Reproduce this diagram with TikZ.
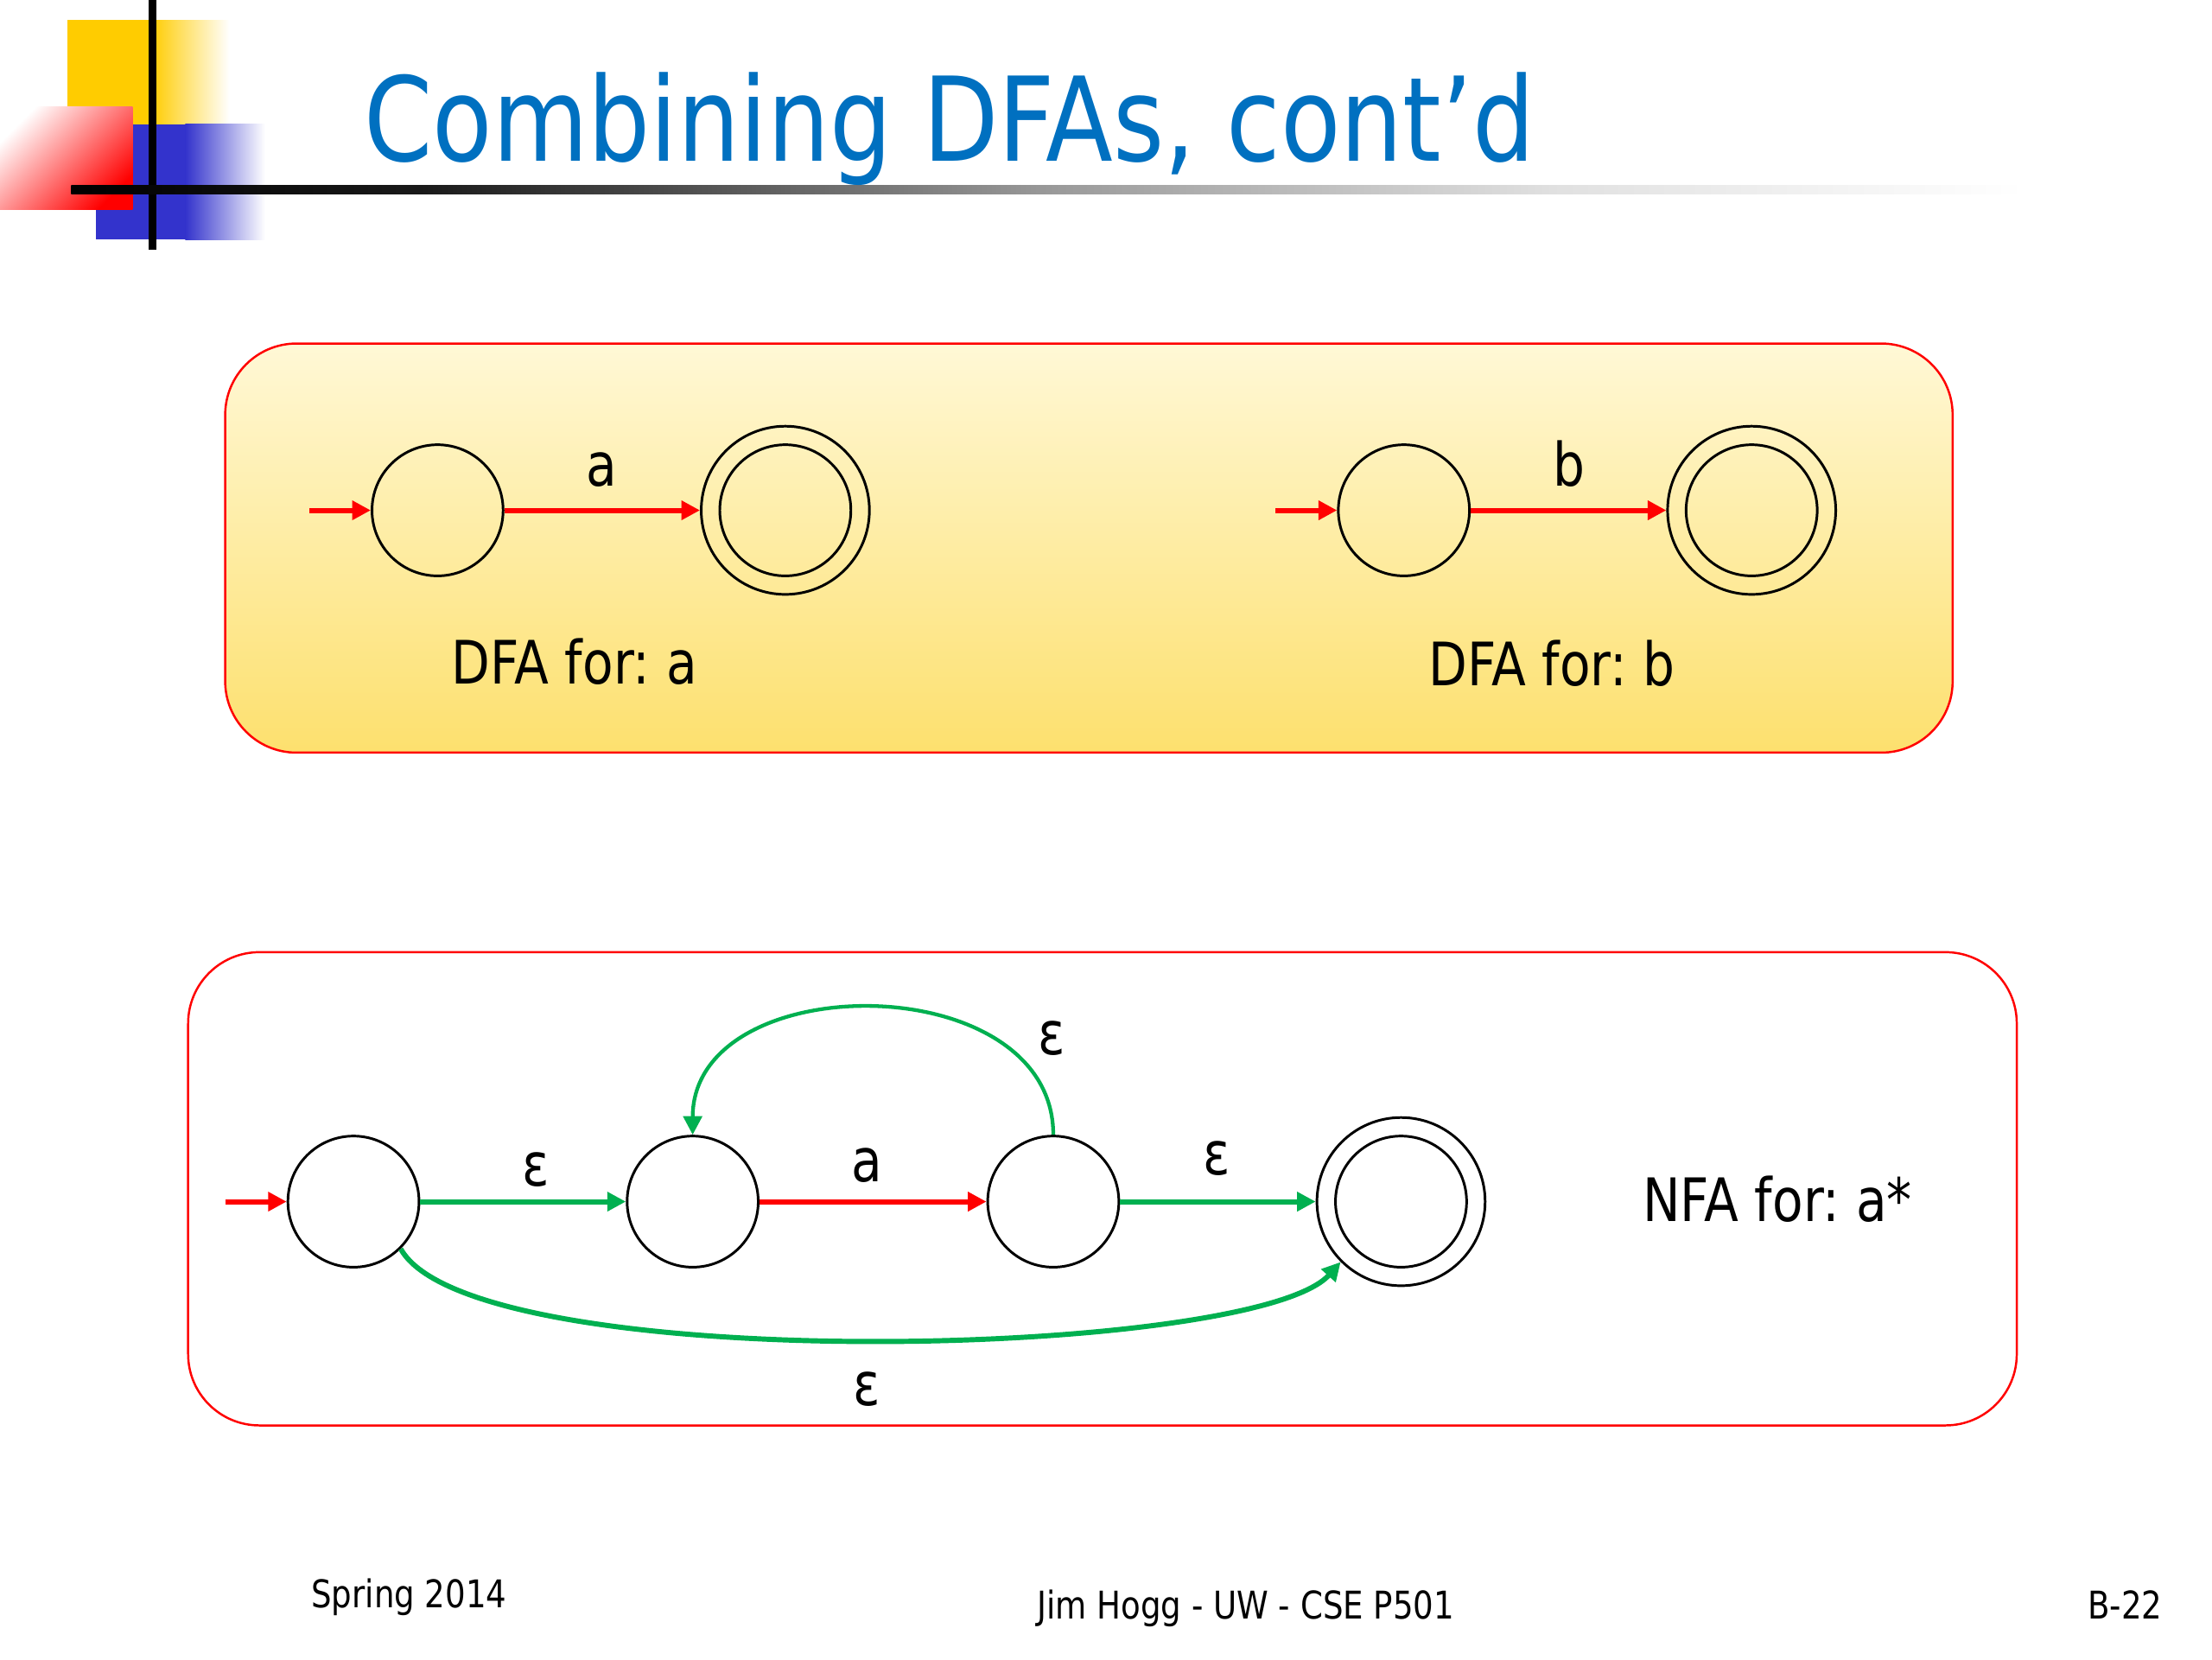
\documentclass[tikz,border=0pt]{standalone}
\usepackage{fontspec}
\setmainfont{DejaVu Sans}[FakeStretch=0.84]
\usetikzlibrary{arrows.meta}
\definecolor{titleblue}{RGB}{0,112,192}
\definecolor{epsgreen}{RGB}{0,176,80}
\definecolor{boxtop}{RGB}{255,248,214}
\definecolor{boxbot}{RGB}{253,224,110}
\definecolor{tileyellow}{RGB}{255,204,0}
\definecolor{tileblue}{RGB}{51,51,204}
\pgfdeclarehorizontalshading{rulefade}{100bp}{color(0bp)=(black); color(25bp)=(black); color(34bp)=(black!90); color(50bp)=(black!40); color(63bp)=(black!12); color(75bp)=(white); color(100bp)=(white)}
\tikzstyle{state}=[circle,draw,line width=0.9pt,minimum size=46pt,inner sep=0pt]
\tikzstyle{accept}=[circle,draw,line width=0.9pt,minimum size=59pt,inner sep=0pt,
  path picture={\draw[line width=0.9pt] (path picture bounding box.center) circle (23pt);}]
\tikzstyle{redarr}=[red,line width=1.8pt,-{Triangle[length=6.5pt,width=6.5pt]}]
\tikzstyle{grnarr}=[epsgreen,line width=1.8pt,-{Triangle[length=6.5pt,width=6.5pt]}]
\tikzstyle{lbl}=[font=\fontsize{21}{24}\selectfont,inner sep=0pt,anchor=base]
\tikzstyle{foot}=[font=\fontsize{13.4}{15}\selectfont,inner sep=0pt,anchor=base]
\frenchspacing

\begin{document}
\begin{tikzpicture}[x=0.5pt,y=-0.5pt]
    \useasboundingbox (0,0) rectangle (1552,1164);
    % logo tiles
    \fill[tileyellow] (47,14) rectangle (106,87);
    \shade[left color=tileyellow,right color=white] (106,14) rectangle (161,87);
    \fill[tileblue] (67,87) rectangle (130,168);
    \shade[left color=tileblue,right color=white] (130,87) rectangle (186,168);
    \shade[left color=white,right color=red,shading angle=45] (0,75) rectangle (93,147);
    \draw[line width=2.7pt] (107,0) -- (107,175);
    \shade[shading=rulefade] (50,130) rectangle (1420,136);
    \node[anchor=base west,text=titleblue,font=\fontsize{41}{45}\selectfont,inner sep=0pt] (title) at (255,113) {Combining DFAs, cont’d};

    % panels
    \shade[draw=red,line width=0.75pt,rounded corners=25pt,top color=boxtop,bottom color=boxbot] (158,241) rectangle (1370,528);
    \draw[red,line width=0.75pt,rounded corners=25pt] (132,668) rectangle (1415,1000);

    \coordinate (sa) at (217,358);
    \node[state] (qa0) at (307,358) {};
    \node[accept] (qa1) at (551,358) {};
    \coordinate (sb) at (895,358);
    \node[state] (qb0) at (985,358) {};
    \node[accept] (qb1) at (1229,358) {};
    \coordinate (sn) at (158,843);
    \node[state] (n0) at (248,843) {};
    \node[state] (n1) at (486,843) {};
    \node[state] (n2) at (739,843) {};
    \node[accept] (n3) at (983,843) {};

    \foreach \from/\to in {sa/qa0,qa0/qa1,sb/qb0,qb0/qb1,sn/n0,n1/n2}
    \draw[redarr] (\from) -- (\to);
    \foreach \from/\to in {n0/n1,n2/n3}
    \draw[grnarr] (\from) -- (\to);
    \draw[grnarr,line width=1.3pt] (n2.north) to[out=90,in=90,looseness=1.2] (n1.north);
    \draw[grnarr] (n0.-45) .. controls +(50,90) and +(-61,68) .. (n3.-135);

    \node[lbl] (la) at (422,341) {a};
    \node[lbl] (lb) at (1101,341) {b};
    \node[lbl] (dfaa) at (403,480) {DFA for: a};
    \node[lbl] (dfab) at (1089,481) {DFA for: b};
    \node[lbl] (e1) at (376,832) {ε};
    \node[lbl] (l2) at (608,829) {a};
    \node[lbl] (e3) at (854,824) {ε};
    \node[lbl] (eloop) at (738,740) {ε};
    \node[lbl] (eskip) at (608,986) {ε};
    \node[lbl] (nfa) at (1247,857) {NFA for: a*};

    \node[foot] (spring) at (287,1128) {Spring 2014};
    \node[foot] (author) at (874,1136) {Jim Hogg - UW - CSE P501};
    \node[foot] (page) at (1491,1136) {B-22};
\end{tikzpicture}
\end{document}
